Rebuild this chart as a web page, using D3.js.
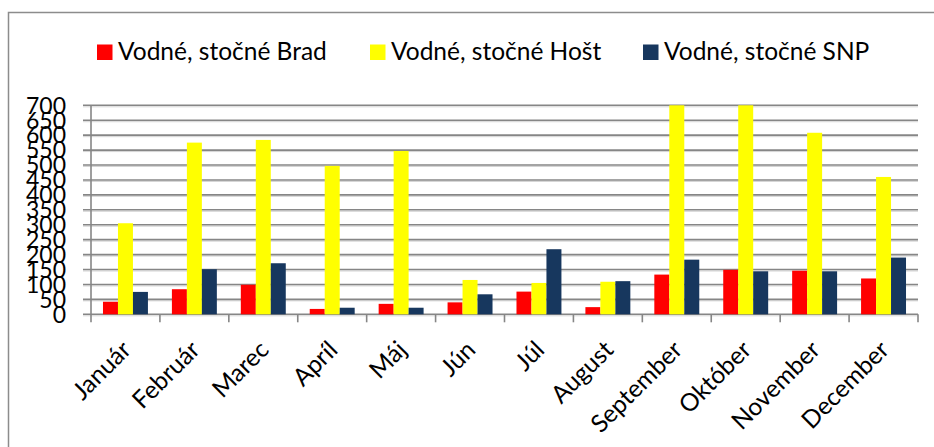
<!DOCTYPE html>
<html><head><meta charset="utf-8">
<script src="https://cdn.jsdelivr.net/npm/d3@7"></script>
<style>
html,body{margin:0;padding:0;background:#fff;overflow:hidden}
text{font-family:Lato,"Open Sans",sans-serif;fill:#000}
</style></head>
<body><svg id="c" width="934" height="447"></svg>
<script>
const months = ["Január","Február","Marec","Apríl","Máj","Jún","Júl","August","September","Október","November","December"];
const seriesNames = ["Vodné, stočné Brad","Vodné, stočné Hošt","Vodné, stočné SNP"];
const brad = [42, 84, 99, 18, 35, 40, 76, 24, 133, 149, 146, 120];
const host = [305, 575, 584, 497, 547, 115, 105, 109, 700, 700, 608, 460];
const snp  = [75, 151, 171, 22, 22, 67, 218, 111, 183, 144, 144, 190];
const colors = ["#FF0000","#FFFF00","#17375E"];
const yTicks = d3.range(0, 701, 50);

const svg = d3.select("#c");
const pLeft = 91, pRight = 918, pTop = 105.3, pBottom = 314.3;

// frame
svg.append("rect").attr("x",8.5).attr("y",12.5).attr("width",1000).attr("height",1000)
  .attr("fill","none").attr("stroke","#8c8c8c").attr("stroke-width",1.5);

const y = d3.scaleLinear().domain([0,700]).range([pBottom, pTop]);
const x0 = d3.scaleBand().domain(months).range([pLeft, pRight]).padding(0);
const x1 = d3.scaleBand().domain(seriesNames).range([0, x0.bandwidth()]).paddingInner(0).paddingOuter(0.8);

// gridlines
const g = svg.append("g");
g.selectAll("line.s").data(yTicks).join("line").attr("class","s")
  .attr("x1",pLeft-8).attr("x2",pRight).attr("y1",d=>y(d)+1.5).attr("y2",d=>y(d)+1.5)
  .attr("stroke","#d4d4d4").attr("stroke-width",1);
g.selectAll("line.g").data(yTicks).join("line").attr("class","g")
  .attr("x1",pLeft-8).attr("x2",pRight).attr("y1",d=>y(d)).attr("y2",d=>y(d))
  .attr("stroke","#868686").attr("stroke-width",1.6);

// y axis line
svg.append("line").attr("x1",pLeft).attr("x2",pLeft).attr("y1",pTop).attr("y2",pBottom+8)
  .attr("stroke","#868686").attr("stroke-width",1.6);
// x ticks at category boundaries
const bounds = months.map(m=>x0(m)).concat([pRight]);
svg.selectAll("line.xt").data(bounds.slice(1)).join("line").attr("class","xt")
  .attr("x1",d=>d).attr("x2",d=>d).attr("y1",pBottom).attr("y2",pBottom+8)
  .attr("stroke","#868686").attr("stroke-width",1.6);

// bars
const data = months.map((m,i)=>({m, vals:[brad[i],host[i],snp[i]]}));
const grp = svg.append("g").selectAll("g").data(data).join("g")
  .attr("transform",d=>`translate(${x0(d.m)},0)`);
grp.selectAll("rect").data(d=>d.vals.map((v,j)=>({v,s:seriesNames[j],j})))
  .join("rect")
  .attr("x",d=>x1(d.s)).attr("width",x1.bandwidth())
  .attr("y",d=>y(d.v)).attr("height",d=>y(0)-y(d.v))
  .attr("fill",d=>colors[d.j]);

// y labels
svg.append("g").selectAll("text").data(yTicks).join("text")
  .attr("x",66).attr("y",d=>y(d)).attr("dy","0.36em")
  .attr("text-anchor","end").style("font-size","23px").text(d=>d);

// x labels
svg.append("g").selectAll("text").data(months).join("text")
  .attr("text-anchor","end").style("font-size","24.5px")
  .attr("transform",d=>`translate(${x0(d)+x0.bandwidth()/2+7},${pBottom+37}) rotate(-45)`)
  .text(d=>d);

// legend
const legX = [97, 370, 643];
const leg = svg.append("g").selectAll("g").data(seriesNames).join("g")
  .attr("transform",(d,i)=>`translate(${legX[i]},44.5)`);
leg.append("rect").attr("width",15.5).attr("height",15.5).attr("fill",(d,i)=>colors[i]);
leg.append("text").attr("x",21).attr("y",15.5).style("font-size","24.5px").text(d=>d);
</script></body></html>
